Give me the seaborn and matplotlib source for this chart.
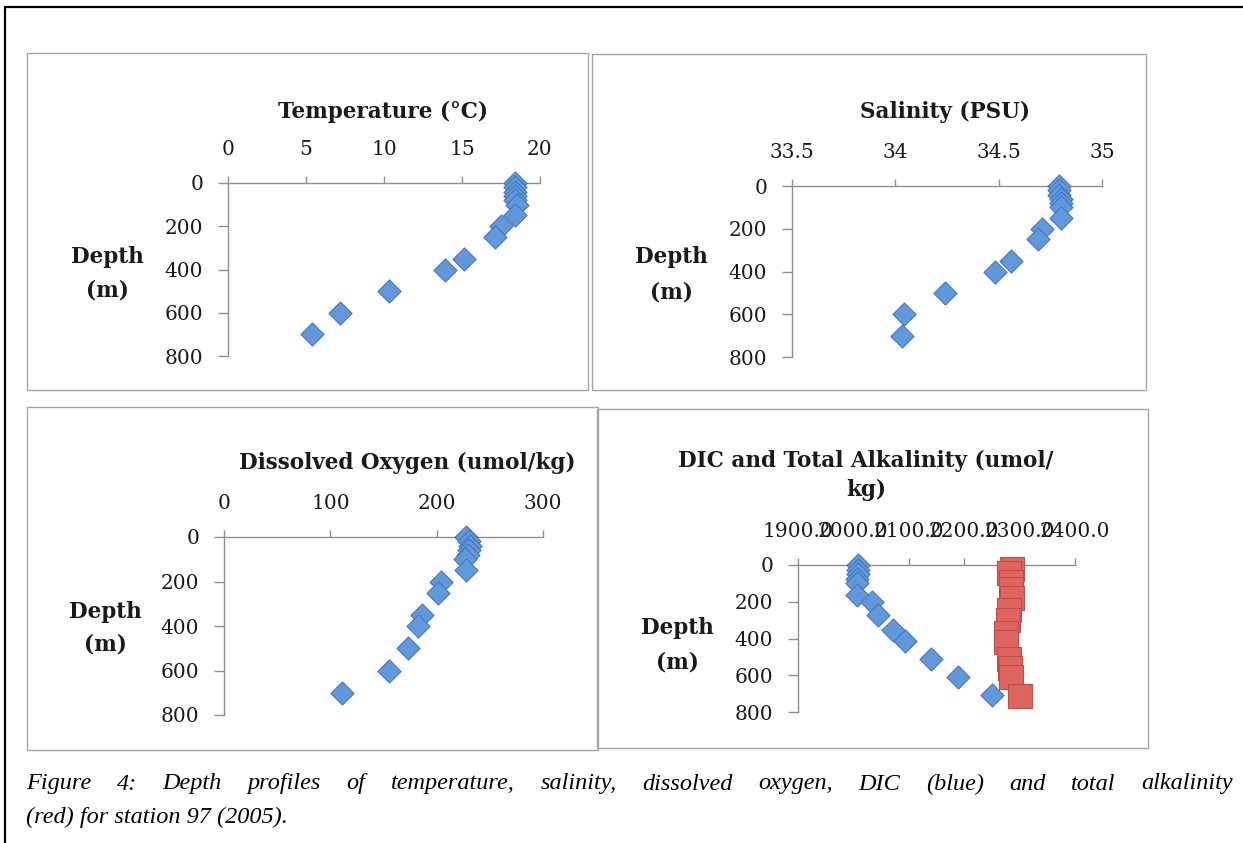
import numpy as np
import pandas as pd
import seaborn as sns
import matplotlib
matplotlib.use("Agg")
import matplotlib.pyplot as plt
from matplotlib.patches import Rectangle
from matplotlib.lines import Line2D

# ---------------- data ----------------
depth = [0, 20, 40, 60, 80, 100, 150, 200, 250, 350, 400, 500, 600, 700]
temperature = [18.4, 18.4, 18.4, 18.4, 18.4, 18.5, 18.4, 17.5, 17.1, 15.1, 13.9, 10.3, 7.2, 5.4]
salinity = [34.79, 34.79, 34.79, 34.80, 34.80, 34.80, 34.80, 34.71, 34.69, 34.56, 34.48, 34.24, 34.04, 34.03]
oxygen = [228, 230, 231, 230, 229, 227, 228, 204, 201, 186, 182, 173, 155, 111]

dic_depth = [0, 25, 50, 75, 100, 165, 200, 270, 355, 415, 510, 610, 710]
dic = [2008, 2008, 2008, 2007, 2007, 2006, 2034, 2044, 2071, 2093, 2140, 2189, 2251]
ta_depth = [20, 45, 90, 130, 180, 245, 300, 370, 420, 510, 560, 610, 715]
ta = [2287, 2281, 2284, 2285, 2286, 2281, 2279, 2276, 2275, 2281, 2282, 2284, 2301]

depth_ticks = [0, 200, 400, 600, 800]
temp_ticks = [0, 5, 10, 15, 20]
sal_ticks = [33.5, 34, 34.5, 35]
oxy_ticks = [0, 100, 200, 300]
dic_ticks = [1900, 2000, 2100, 2200, 2300, 2400]

titles = ["Temperature (°C)", "Salinity (PSU)", "Dissolved Oxygen (umol/kg)",
          "DIC and Total Alkalinity (umol/", "kg)"]
ylab1, ylab2 = "Depth", "(m)"
caption1 = ("Figure 4: Depth profiles of temperature, salinity, dissolved oxygen, "
            "DIC (blue) and total alkalinity")
caption2 = "(red) for station 97 (2005)."

# ---------------- style ----------------
sns.set_theme(style="white")
plt.rcParams['font.family'] = ['DejaVu Serif', 'DejaVu Sans']

W, H = 1243, 843
fig = plt.figure(figsize=(W / 100, H / 100), dpi=100)
fig.patch.set_facecolor('white')


def rect(x0, x1, y0, y1):
    return [x0 / W, 1 - y1 / H, (x1 - x0) / W, (y1 - y0) / H]


def fx(x):
    return x / W


def fy(y):
    return 1 - y / H


BLUE_F, BLUE_E = '#6198dc', '#4678bb'
RED_F, RED_E = '#e0645e', '#b9504b'
AXC = '#8f8f8f'
TXT = '#1a1a1a'
D_S, S_S = 138, 290

# outer frame (top and left)
fig.add_artist(Line2D([fx(5), 1.0], [fy(7), fy(7)], color='black', lw=1.6))
fig.add_artist(Line2D([fx(5), fx(5)], [fy(7), 0.0], color='black', lw=1.6))

# chart boxes
for (x0, x1, y0, y1) in [(27, 588, 53, 390), (592, 1146, 54, 390),
                         (27, 598, 407, 750), (597, 1148, 409, 748)]:
    fig.add_artist(Rectangle((fx(x0), fy(y1)), (x1 - x0) / W, (y1 - y0) / H,
                             transform=fig.transFigure, fill=False,
                             edgecolor='#a6a6a6', lw=1.0))


def style(ax, xlim, xticks, xlabels):
    ax.set_xlim(*xlim)
    ax.set_ylim(800, 0)
    ax.set_facecolor('none')
    ax.grid(False)
    ax.xaxis.set_ticks_position('top')
    for s in ['right', 'bottom']:
        ax.spines[s].set_visible(False)
    for s in ['top', 'left']:
        ax.spines[s].set_visible(True)
        ax.spines[s].set_color(AXC)
        ax.spines[s].set_linewidth(1.0)
    ax.set_xticks(xticks)
    ax.set_xticklabels(xlabels)
    ax.set_yticks(depth_ticks)
    ax.set_yticklabels([str(v) for v in depth_ticks])
    ax.tick_params(axis='x', which='both', direction='out', top=True, bottom=False,
                   labeltop=True, labelbottom=False, length=5, width=1, color=AXC,
                   pad=12, labelsize=14.5, labelcolor=TXT)
    ax.tick_params(axis='y', which='both', direction='out', left=True, right=False,
                   length=7, width=1, color=AXC, pad=11, labelsize=14.5, labelcolor=TXT)
    ax.set_xlabel('')
    ax.set_ylabel('')


def diamonds(ax, x, y):
    sns.scatterplot(x=x, y=y, ax=ax, marker='D', s=D_S, color=BLUE_F,
                    edgecolor=BLUE_E, linewidth=0.8, clip_on=False, zorder=3,
                    legend=False)


# panel 1: temperature
ax1 = fig.add_axes(rect(228, 540, 183, 356))
diamonds(ax1, temperature, depth)
style(ax1, (0, 20), temp_ticks, [f"{v:g}" for v in temp_ticks])

# panel 2: salinity
ax2 = fig.add_axes(rect(792, 1102, 186, 357))
diamonds(ax2, salinity, depth)
style(ax2, (33.5, 35), sal_ticks, [f"{v:g}" for v in sal_ticks])

# panel 3: oxygen
ax3 = fig.add_axes(rect(224, 543, 537, 715))
diamonds(ax3, oxygen, depth)
style(ax3, (0, 300), oxy_ticks, [f"{v:g}" for v in oxy_ticks])

# panel 4: DIC & TA
ax4 = fig.add_axes(rect(798, 1075, 565, 712))
diamonds(ax4, dic, dic_depth)
sns.scatterplot(x=ta, y=ta_depth, ax=ax4, marker='s', s=S_S, color=RED_F,
                edgecolor=RED_E, linewidth=0.8, clip_on=False, zorder=4, legend=False)
style(ax4, (1900, 2400), dic_ticks, [f"{v:.1f}" for v in dic_ticks])

# titles
tkw = dict(fontsize=15.5, fontweight='bold', color=TXT, ha='center', va='center')
fig.text(fx(383), fy(112), titles[0], **tkw)
fig.text(fx(945), fy(112), titles[1], **tkw)
fig.text(fx(407), fy(463), titles[2], **tkw)
fig.text(fx(866), fy(461), titles[3], **tkw)
fig.text(fx(866), fy(490), titles[4], **tkw)

# depth labels
for (x, y1, y2) in [(107, 257, 290), (671, 257, 292), (105, 612, 645), (677, 628, 662)]:
    fig.text(fx(x), fy(y1), ylab1, **tkw)
    fig.text(fx(x), fy(y2), ylab2, **tkw)

# caption (first line justified)
ckw = dict(fontsize=17.5, style='italic', family=['Liberation Serif', 'DejaVu Serif'],
           color='black', va='center', ha='left')
words = caption1.split(' ')
renderer = fig.canvas.get_renderer()
objs = [fig.text(0, fy(784), w, **ckw) for w in words]
widths = [o.get_window_extent(renderer=renderer).width for o in objs]
left, right = 26, 1233
gap = (right - left - sum(widths)) / (len(words) - 1)
x = left
for o, w in zip(objs, widths):
    o.set_x(fx(x))
    x += w + gap
fig.text(fx(26), fy(817), caption2, **ckw)

fig.savefig('out.png', dpi=100, facecolor='white')
